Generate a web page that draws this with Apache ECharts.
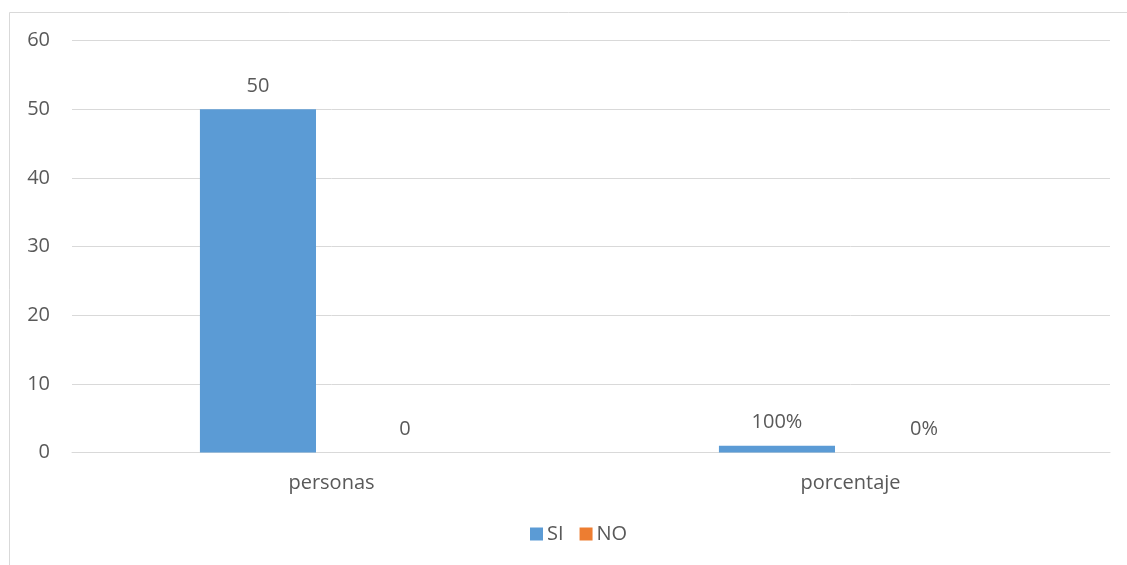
<!DOCTYPE html>
<html>
<head>
<meta charset="utf-8">
<style>
  html, body { margin: 0; padding: 0; background: #ffffff; }
  #chart { width: 1127px; height: 565px; }
</style>
<script src="https://cdn.jsdelivr.net/npm/echarts@6/dist/echarts.min.js"></script>
</head>
<body>
<div id="chart"></div>
<script>
// Categories and series values
const categories = ['personas', 'porcentaje'];
const seriesNames = ['SI', 'NO'];
const siValues = [50, 1];        // porcentaje stored as a fraction (1 = 100%)
const noValues = [0, 0];
const siLabels = ['50', '100%'];
const noLabels = ['0', '0%'];
const yTicks = [0, 10, 20, 30, 40, 50, 60];

const FONT = '"Open Sans", "Noto Sans", sans-serif';
const TEXT = '#595959';
const SIZE = 20;

const chart = echarts.init(document.getElementById('chart'), null, { renderer: 'canvas' });

function barLabel(texts) {
  return {
    show: true,
    position: 'top',
    distance: 13,
    color: TEXT,
    fontFamily: FONT,
    fontSize: SIZE,
    formatter: p => texts[p.dataIndex]
  };
}

chart.setOption({
  backgroundColor: '#ffffff',
  animation: false,
  graphic: [{
    type: 'rect',
    shape: { x: 9.5, y: 12.5, width: 1200, height: 600 },
    style: { fill: 'none', stroke: '#D9D9D9', lineWidth: 1 },
    silent: true
  }],
  grid: { left: 72, right: 17, top: 40.5, bottom: 112.5, containLabel: false },
  legend: {
    top: 519,
    left: 525,
    itemWidth: 13,
    itemHeight: 13,
    itemGap: 16,
    icon: 'rect',
    textStyle: { color: TEXT, fontFamily: FONT, fontSize: SIZE, padding: [0, 0, 0, -1] },
    data: seriesNames
  },
  xAxis: {
    type: 'category',
    data: categories,
    axisLine: { show: true, lineStyle: { color: '#D9D9D9', width: 1 } },
    axisTick: { show: false },
    axisLabel: { color: TEXT, fontFamily: FONT, fontSize: SIZE, margin: 21 }
  },
  yAxis: {
    type: 'value',
    min: yTicks[0],
    max: yTicks[yTicks.length - 1],
    interval: 10,
    axisLine: { show: false },
    axisTick: { show: false },
    splitLine: { lineStyle: { color: '#D9D9D9', width: 1 } },
    axisLabel: { color: TEXT, fontFamily: FONT, fontSize: SIZE, margin: 22 }
  },
  series: [
    {
      name: seriesNames[0],
      type: 'bar',
      data: siValues,
      barGap: '26.7%',
      barCategoryGap: '49.3%',
      itemStyle: { color: '#5B9BD5' },
      label: barLabel(siLabels)
    },
    {
      name: seriesNames[1],
      type: 'bar',
      data: noValues,
      barGap: '26.7%',
      barCategoryGap: '49.3%',
      itemStyle: { color: '#ED7D31' },
      label: barLabel(noLabels)
    }
  ]
});
</script>
</body>
</html>
